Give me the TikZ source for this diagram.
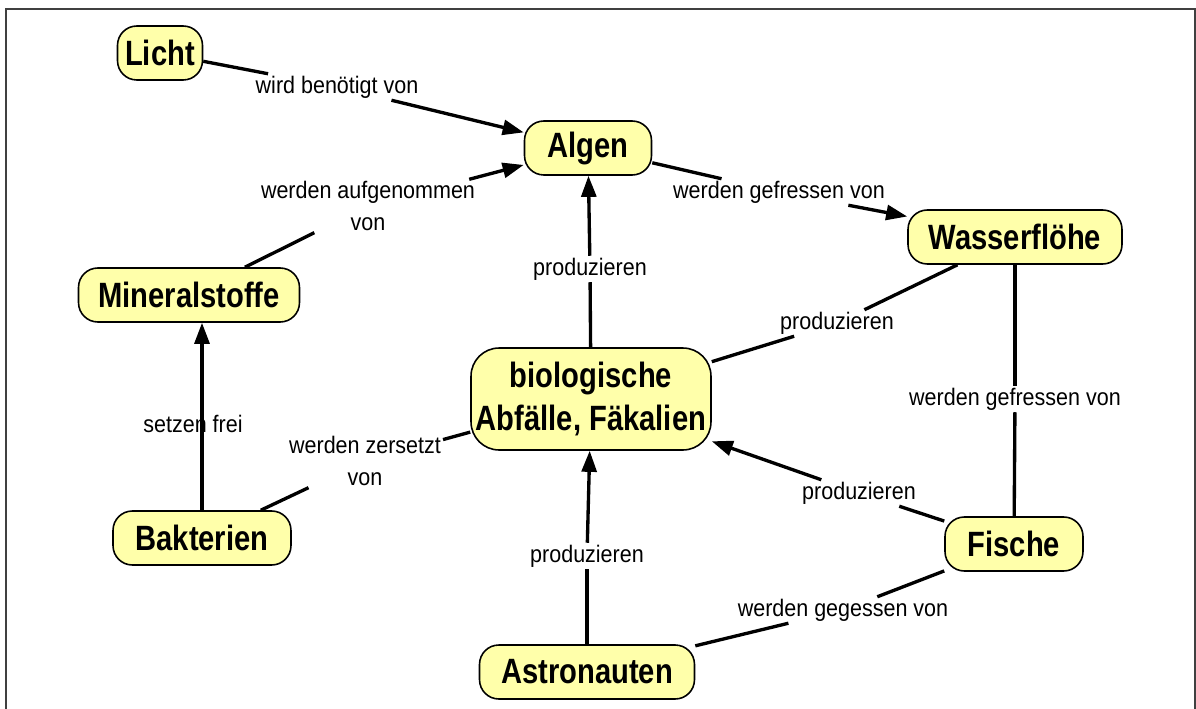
\documentclass[tikz,border=0pt]{standalone}
\usepackage{fontspec}
\usepackage{xcolor}
\usepackage{tikz}
\usetikzlibrary{arrows.meta, positioning}
\newfontfamily\conceptfont{Liberation Sans}[FakeStretch=0.83]
\newfontfamily\linkfont{Liberation Sans}[FakeStretch=0.9]
\definecolor{conceptfill}{RGB}{255,255,170}

\begin{document}
\begin{tikzpicture}[x=0.02cm, y=-0.02cm,
  concept/.style={draw, line width=0.9pt, fill=conceptfill, rounded corners=11pt, align=center, inner sep=2pt, minimum height=1.08cm, font=\conceptfont\bfseries\fontsize{20}{24.4}\selectfont},
  link/.style={align=center, inner sep=1pt, font=\linkfont\fontsize{13.6}{18}\selectfont},
  con/.style={line width=1.9pt},
  arr/.style={line width=1.9pt, -{Triangle[length=12pt, width=8.5pt]}}]
\useasboundingbox (0,0) rectangle (1196,709);
\draw[line width=1.2pt, black!75] (6,9) rectangle (1195,730);

% Nodes
\node[concept, minimum width=1.7cm] (licht) at (160,53) {Licht};
\node[concept, minimum width=2.54cm] (algen) at (588,148) {Algen};
\node[concept, minimum width=4.28cm] (wasser) at (1015,237) {Wasserflöhe};
\node[concept, minimum width=4.42cm] (mineral) at (189,295) {Mineralstoffe};
\node[concept, minimum width=4.8cm, minimum height=2.04cm, rounded corners=16pt] (bio) at (591,399) {biologische\\Abfälle, Fäkalien};
\node[concept, minimum width=3.56cm] (bakterien) at (202,538) {Bakterien};
\node[concept, minimum width=2.76cm] (fische) at (1014,544) {Fische};
\node[concept, minimum width=4.3cm] (astro) at (587,672) {Astronauten};

% Link labels
\node[link] (benoetigt) at (337,87) {wird benötigt von};
\node[link] (aufgenommen) at (368,206) {werden aufgenommen\\von};
\node[link] (gefressenA) at (779,192) {werden gefressen von};
\node[link] (prodAlgen) at (590,269) {produzieren};
\node[link] (prodWasser) at (837,323) {produzieren};
\node[link] (gefressenB) at (1015,399) {werden gefressen von};
\node[link] (setzen) at (193,424) {setzen frei};
\node[link] (zersetzt) at (365,461) {werden zersetzt\\von};
\node[link] (prodFische) at (859,493) {produzieren};
\node[link] (prodAstro) at (587,556) {produzieren};
\node[link] (gegessen) at (843,610) {werden gegessen von};

% Edges
\draw[con] (licht) -- (benoetigt);
\draw[arr] (benoetigt) -- (algen);
\draw[con] (mineral) -- (aufgenommen);
\draw[arr] (aufgenommen) -- (algen);
\draw[con] (algen) -- (gefressenA);
\draw[arr] (gefressenA) -- (wasser);
\draw[con] (bio) -- (prodAlgen);
\draw[arr] (prodAlgen) -- (algen);
\draw[con] (wasser) -- (prodWasser);
\draw[con] (prodWasser) -- (bio);
\draw[con] (wasser) -- (gefressenB);
\draw[con] (gefressenB) -- (fische);
\draw[arr] (bakterien.north) -- (bakterien.north |- mineral.south);
\draw[con] (bakterien) -- (zersetzt);
\draw[con] (zersetzt) -- (bio);
\draw[con] (fische) -- (prodFische);
\draw[arr] (prodFische) -- (bio);
\draw[con] (astro) -- (prodAstro);
\draw[arr] (prodAstro) -- (bio);
\draw[con] (fische) -- (gegessen);
\draw[con] (gegessen) -- (astro);

\end{tikzpicture}
\end{document}
